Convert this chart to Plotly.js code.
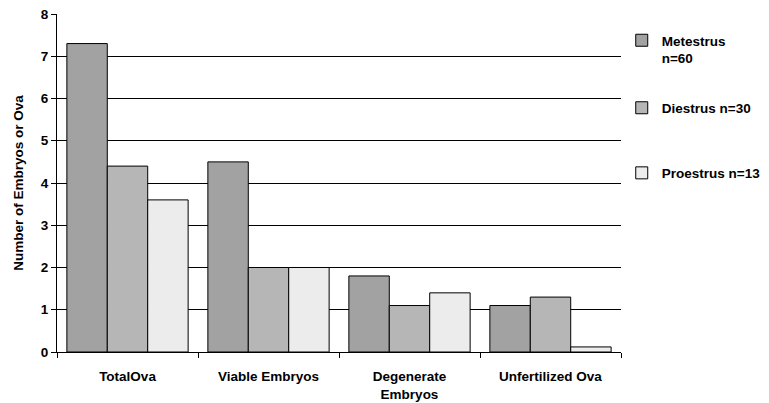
<!DOCTYPE html>
<html><head><meta charset="utf-8">
<script src="https://cdn.plot.ly/plotly-3.0.1.min.js"></script>
<style>html,body{margin:0;padding:0;background:#fff}#chart{width:769px;height:403px}</style>
</head><body><div id="chart"></div>
<script>
const categories = ["TotalOva", "Viable Embryos", "Degenerate<br>Embryos", "Unfertilized Ova"];
const metestrus = [7.3, 4.5, 1.8, 1.1];
const diestrus = [4.4, 2.0, 1.1, 1.3];
const proestrus = [3.6, 2.0, 1.4, 0.12];
const seriesNames = ["Metestrus<br>n=60", "Diestrus n=30", "Proestrus n=13"];
const seriesColors = ["#a2a2a2", "#b6b6b6", "#ececec"];
const yTicks = [0, 1, 2, 3, 4, 5, 6, 7, 8];

const FAM = "Liberation Sans, Arial, sans-serif";
const font = {family: FAM, size: 13.5, color: "#000", weight: 700};
const vals = [metestrus, diestrus, proestrus];
const legendKeys = ["legend", "legend2", "legend3"];
const traces = vals.map((v, i) => ({
  type: "bar", x: categories, y: v, name: seriesNames[i],
  marker: {color: seriesColors[i], line: {color: "#000", width: 1}},
  legend: legendKeys[i], hoverinfo: "none"
}));
const legendBase = {font: {family: FAM, size: 13.5, color: "#000", weight: 700},
  bgcolor: "rgba(0,0,0,0)", xref: "container", yref: "container",
  xanchor: "left", yanchor: "top", itemwidth: 30, x: 0.8085, valign: "top"};
const layout = {
  width: 769, height: 403,
  margin: {l: 57, r: 148, t: 14, b: 51},
  paper_bgcolor: "#fff", plot_bgcolor: "#fff",
  font: font,
  barmode: "group", bargap: 0.14, bargroupgap: 0,
  xaxis: {type: "category", showline: true, linecolor: "#000", linewidth: 1,
    ticks: "outside", tickson: "boundaries", ticklen: 5, tickcolor: "#000",
    ticklabelstandoff: 12, automargin: false,
    tickfont: {family: FAM, size: 13.5, weight: 700}, fixedrange: true},
  yaxis: {range: [0, 8], tickvals: yTicks, showline: true, linecolor: "#000", linewidth: 1,
    ticks: "outside", ticklen: 5, tickcolor: "#000", showgrid: true, gridcolor: "#000", gridwidth: 1,
    zeroline: false, automargin: false, tickfont: {family: FAM, size: 13.5, weight: 700},
    title: {text: "Number of Embryos or Ova", font: {family: FAM, size: 13.5, weight: 700}, standoff: 14},
    fixedrange: true},
  showlegend: true,
  legend: Object.assign({}, legendBase, {y: 0.938}),
  legend2: Object.assign({}, legendBase, {y: 0.7705}),
  legend3: Object.assign({}, legendBase, {y: 0.609})
};
Plotly.newPlot("chart", traces, layout, {displayModeBar: false, staticPlot: true});
</script></body></html>
